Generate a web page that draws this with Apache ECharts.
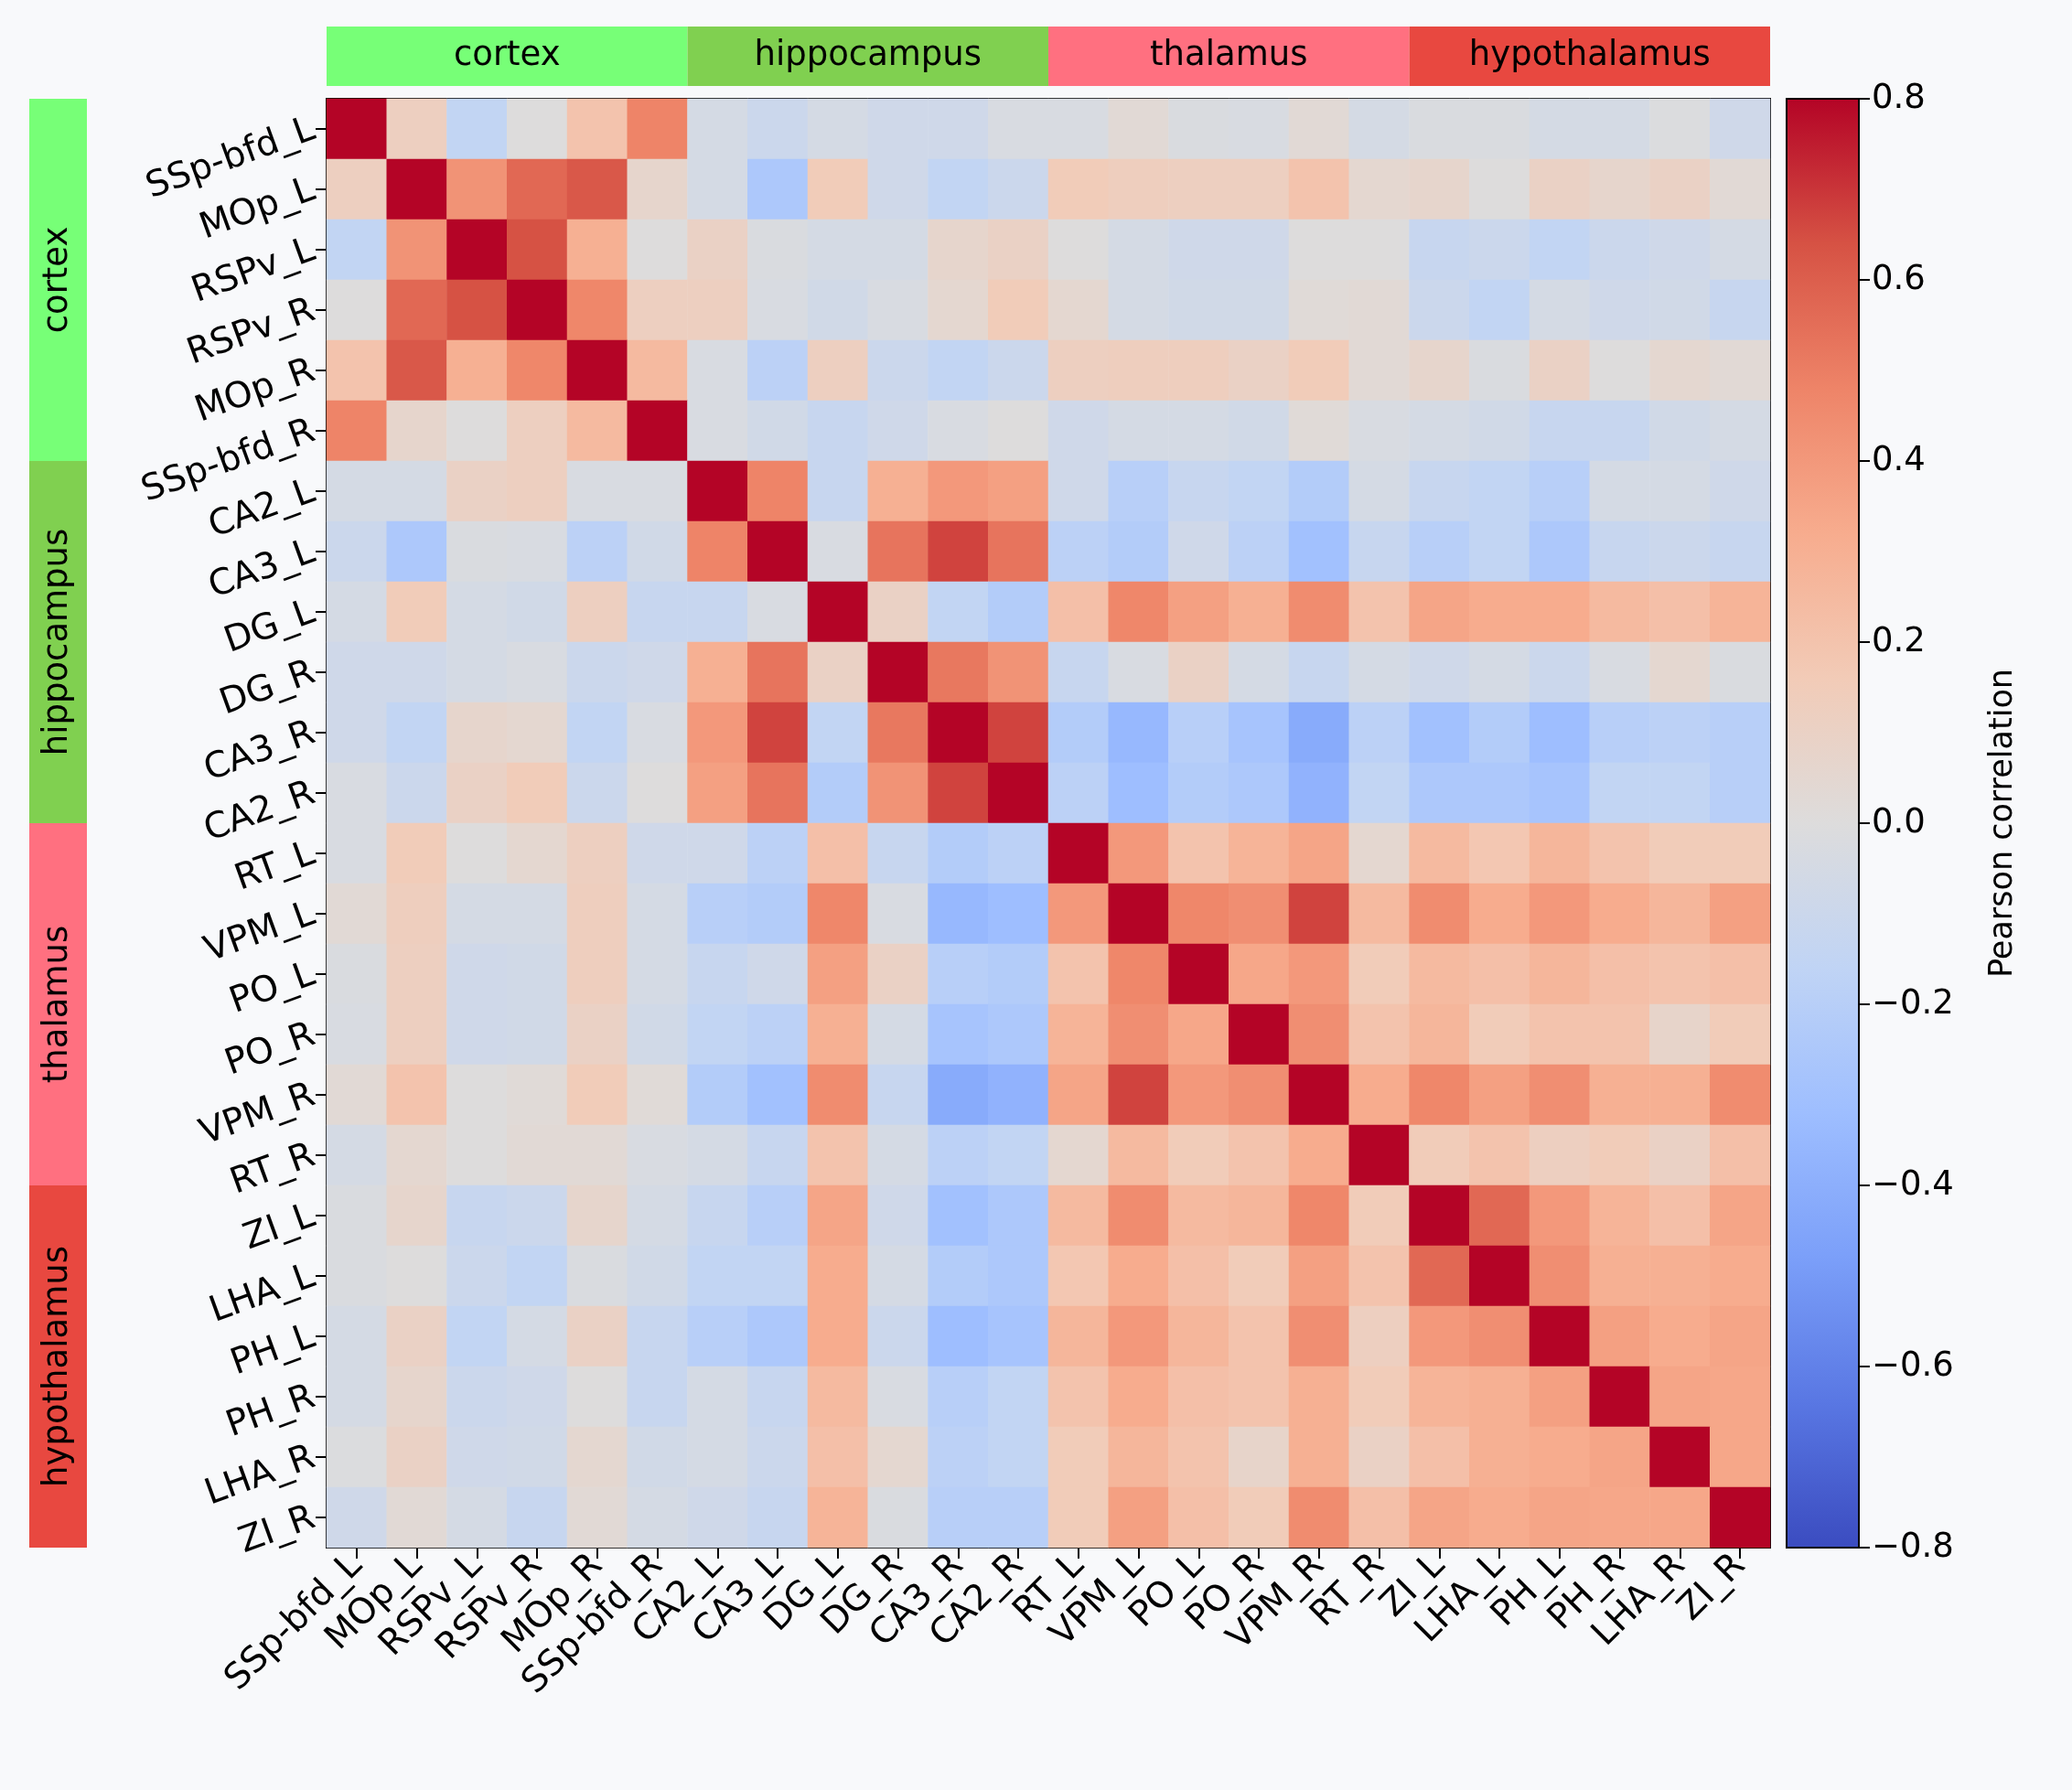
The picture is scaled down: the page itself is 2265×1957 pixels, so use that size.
<!DOCTYPE html>
<html><head><meta charset="utf-8">
<script src="https://cdn.jsdelivr.net/npm/echarts@6/dist/echarts.min.js"></script>
<style>html,body{margin:0;padding:0;background:#f8f9fb}#c{width:2265px;height:1957px}</style>
</head><body><div id="c"></div>
<script>
const regions = ['SSp-bfd_L','MOp_L','RSPv_L','RSPv_R','MOp_R','SSp-bfd_R','CA2_L','CA3_L','DG_L','DG_R','CA3_R','CA2_R','RT_L','VPM_L','PO_L','PO_R','VPM_R','RT_R','ZI_L','LHA_L','PH_L','PH_R','LHA_R','ZI_R'];
const groups = ['cortex','hippocampus','thalamus','hypothalamus'];
const groupColors = ['#77ff77','#80d050','#ff7080','#e84840'];
const groupSize = 6;
const colorbarTicks = [-0.8,0.8,0.2];
// upper triangle rows (from diagonal onward)
const upper = [
[1,0.12,-0.15,0.0,0.2,0.48,-0.05,-0.1,-0.05,-0.08,-0.08,-0.03,-0.03,0.03,-0.02,-0.03,0.03,-0.05,-0.02,-0.02,-0.05,-0.05,-0.01,-0.08],
[1,0.42,0.57,0.62,0.07,-0.05,-0.25,0.15,-0.08,-0.15,-0.1,0.15,0.13,0.12,0.12,0.2,0.05,0.07,0.0,0.1,0.07,0.1,0.03],
[1,0.64,0.3,0.0,0.1,-0.02,-0.05,-0.05,0.07,0.1,0.0,-0.05,-0.08,-0.08,0.0,0.0,-0.12,-0.1,-0.15,-0.1,-0.08,-0.05],
[1,0.47,0.12,0.12,-0.03,-0.07,-0.03,0.05,0.15,0.05,-0.05,-0.07,-0.07,0.02,0.03,-0.1,-0.15,-0.05,-0.08,-0.07,-0.12],
[1,0.25,-0.03,-0.18,0.12,-0.1,-0.15,-0.1,0.12,0.13,0.13,0.1,0.15,0.03,0.07,-0.02,0.1,0.0,0.05,0.03],
[1,-0.03,-0.07,-0.12,-0.08,-0.03,0.0,-0.08,-0.05,-0.05,-0.07,0.02,-0.03,-0.05,-0.07,-0.12,-0.12,-0.07,-0.05],
[1,0.48,-0.12,0.3,0.4,0.37,-0.08,-0.2,-0.12,-0.15,-0.22,-0.05,-0.12,-0.15,-0.2,-0.05,-0.05,-0.08],
[1,-0.03,0.53,0.67,0.53,-0.18,-0.22,-0.08,-0.18,-0.3,-0.12,-0.2,-0.15,-0.25,-0.12,-0.1,-0.12],
[1,0.1,-0.15,-0.22,0.22,0.47,0.37,0.3,0.45,0.2,0.35,0.32,0.32,0.25,0.22,0.28],
[1,0.52,0.42,-0.12,-0.03,0.1,-0.05,-0.12,-0.05,-0.08,-0.05,-0.1,-0.03,0.05,-0.02],
[1,0.67,-0.22,-0.35,-0.2,-0.28,-0.42,-0.18,-0.3,-0.22,-0.32,-0.2,-0.18,-0.2],
[1,-0.18,-0.32,-0.22,-0.25,-0.38,-0.15,-0.25,-0.25,-0.28,-0.15,-0.15,-0.2],
[1,0.4,0.2,0.28,0.35,0.05,0.25,0.18,0.27,0.2,0.15,0.15],
[1,0.47,0.44,0.67,0.25,0.45,0.32,0.4,0.32,0.27,0.37],
[1,0.34,0.4,0.15,0.25,0.22,0.27,0.22,0.2,0.22],
[1,0.44,0.2,0.27,0.15,0.2,0.2,0.08,0.15],
[1,0.32,0.47,0.37,0.44,0.3,0.3,0.45],
[1,0.15,0.2,0.12,0.15,0.1,0.22],
[1,0.57,0.4,0.28,0.22,0.35],
[1,0.44,0.3,0.3,0.32],
[1,0.37,0.32,0.35],
[1,0.35,0.34],
[1,0.34],
[1]
];
const coolwarm = ['#3b4cc0','#5977e3','#7b9ff9','#9ebeff','#c0d4f5','#dddcdc','#f2cbb7','#f7ac8e','#ee8468','#d65244','#b40426'];
const n = regions.length;
const M = Array.from({length:n},()=>new Array(n).fill(0));
for(let i=0;i<n;i++) for(let k=0;k<upper[i].length;k++){const j=i+k;M[i][j]=upper[i][k];M[j][i]=upper[i][k];}
const data=[];
for(let i=0;i<n;i++)for(let j=0;j<n;j++)data.push([j,i,M[i][j]]);
const F='DejaVu Sans';
const chart=echarts.init(document.getElementById('c'));
chart.setOption({
  backgroundColor:'#f8f9fb',
  animation:false,
  grid:[{left:357,top:108,width:1578,height:1584,show:true,borderColor:'#000',borderWidth:2,backgroundColor:'transparent'},
        {left:1953,top:108,width:79,height:1584,show:true,borderColor:'#000',borderWidth:2}],
  xAxis:[{type:'category',data:regions,gridIndex:0,axisLine:{show:false},axisTick:{show:true,alignWithLabel:true,length:12,lineStyle:{color:'#000',width:2}},
    axisLabel:{rotate:45,fontSize:39,fontFamily:F,color:'#000',interval:0,margin:14},splitLine:{show:false}},
    {type:'category',data:['c'],gridIndex:1,show:false}],
  yAxis:[{type:'category',data:regions,inverse:true,gridIndex:0,axisLine:{show:false},axisTick:{show:true,alignWithLabel:true,length:12,lineStyle:{color:'#000',width:2}},
    axisLabel:{rotate:20,fontSize:39,fontFamily:F,color:'#000',interval:0,margin:14},splitLine:{show:false}},
    {type:'value',gridIndex:1,position:'right',min:colorbarTicks[0],max:colorbarTicks[1],interval:colorbarTicks[2],
     axisLine:{show:false},axisTick:{show:true,length:12,lineStyle:{color:'#000',width:2}},splitLine:{show:false},
     axisLabel:{fontSize:37,fontFamily:F,color:'#000',margin:14,formatter:v=>(Math.abs(v)<1e-9?'0.0':v.toFixed(1)).replace('-','\u2212')},
     name:'Pearson correlation',nameLocation:'middle',nameRotate:90,nameGap:140,nameTextStyle:{fontSize:35,fontFamily:F,color:'#000'}}],
  visualMap:{show:false,min:-0.8,max:0.8,seriesIndex:0,inRange:{color:coolwarm}},
  series:[{type:'heatmap',data:data,xAxisIndex:0,yAxisIndex:0},
          {type:'scatter',data:[],xAxisIndex:1,yAxisIndex:1}]
});
const p0=chart.convertToPixel({xAxisIndex:0},0), p1=chart.convertToPixel({xAxisIndex:0},1);
const cw=p1-p0;
const q0=chart.convertToPixel({yAxisIndex:0},0), q1=chart.convertToPixel({yAxisIndex:0},1);
const ch=q1-q0;
const gx=p0-cw/2, gy=q0-ch/2;
const g=[];
groups.forEach((name,k)=>{
  const x=gx+k*groupSize*cw, y=gy+k*groupSize*ch;
  g.push({type:'rect',shape:{x:x,y:29,width:groupSize*cw,height:65},style:{fill:groupColors[k]}});
  g.push({type:'text',x:x+groupSize*cw/2,y:61,style:{text:name,font:'37px "DejaVu Sans"',fill:'#000',align:'center',verticalAlign:'middle'}});
  g.push({type:'rect',shape:{x:32,y:y,width:63,height:groupSize*ch},style:{fill:groupColors[k]}});
  g.push({type:'text',x:63,y:y+groupSize*ch/2,rotation:Math.PI/2,style:{text:name,font:'37px "DejaVu Sans"',fill:'#000',align:'center',verticalAlign:'middle'}});
});
const cbTop=chart.convertToPixel({yAxisIndex:1},0.8), cbBot=chart.convertToPixel({yAxisIndex:1},-0.8);
const stops=coolwarm.map((c,i)=>({offset:1-i/(coolwarm.length-1),color:c}));
g.push({type:'rect',z:-1,shape:{x:1953,y:cbTop,width:79,height:cbBot-cbTop},style:{fill:new echarts.graphic.LinearGradient(0,0,0,1,stops)}});
chart.setOption({graphic:g});
</script></body></html>
